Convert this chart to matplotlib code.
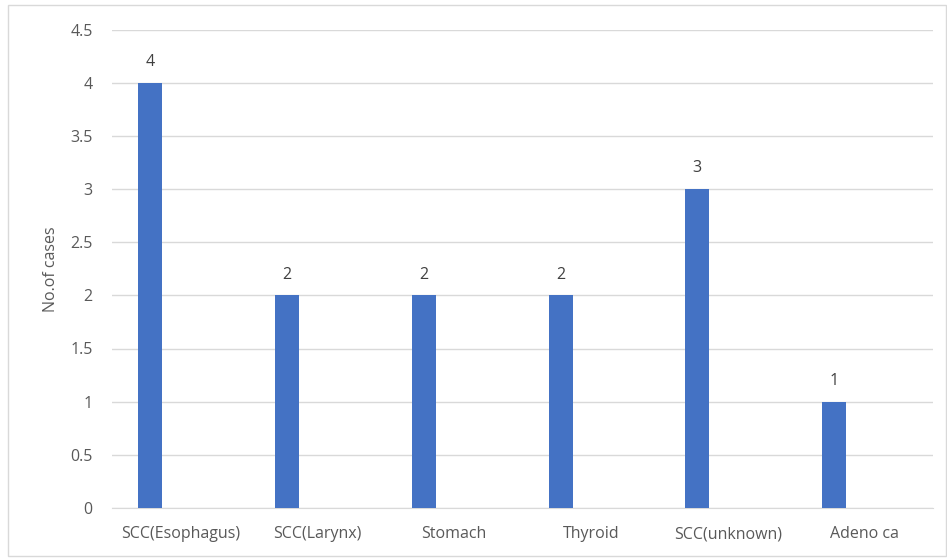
import matplotlib
matplotlib.use("Agg")
import matplotlib.pyplot as plt
from matplotlib.patches import Rectangle
import numpy as np

categories = ["SCC(Esophagus)", "SCC(Larynx)", "Stomach", "Thyroid", "SCC(unknown)", "Adeno ca"]
cases = [4, 2, 2, 2, 3, 1]
yticks = [0, 0.5, 1, 1.5, 2, 2.5, 3, 3.5, 4, 4.5]

plt.rcParams['font.family'] = ['Open Sans', 'DejaVu Sans']
txt = '#595959'
fs = 11.5

fig = plt.figure(figsize=(9.47, 5.58), dpi=100)
W, H = 947, 558
ax = fig.add_axes([112 / W, 1 - 508 / H, (933 - 112) / W, (508 - 29.5) / H])

x = np.arange(len(categories))
bw = 0.175
off = -0.222
bars = ax.bar(x + off, cases, width=bw, color='#4472C4', zorder=3)
for xi, v in zip(x, cases):
    ax.text(xi + off, v + 0.12, str(v), ha='center', va='bottom', fontsize=fs, color='#404040')

ax.set_xlim(-0.5, len(categories) - 0.5)
ax.set_ylim(0, 4.5)
ax.set_yticks(yticks)
ax.set_yticklabels([f"{t:g}" for t in yticks])
ax.set_xticks(x)
ax.set_xticklabels(categories)
ax.tick_params(axis='both', length=0, colors=txt, labelsize=fs)
ax.tick_params(axis='x', pad=13)
ax.tick_params(axis='y', pad=14)
ax.grid(axis='y', color='#D9D9D9', linewidth=1, zorder=0)
for s in ['top', 'right', 'left']:
    ax.spines[s].set_visible(False)
ax.spines['bottom'].set_color('#D9D9D9')
ax.set_ylabel("No.of cases", color=txt, fontsize=fs, labelpad=8)

fig.patches.append(Rectangle((8 / W, 2 / H), 938 / W, 1 - 7 / H, transform=fig.transFigure,
                             fill=False, edgecolor='#D9D9D9', linewidth=1))

fig.savefig("out.png", dpi=100)
